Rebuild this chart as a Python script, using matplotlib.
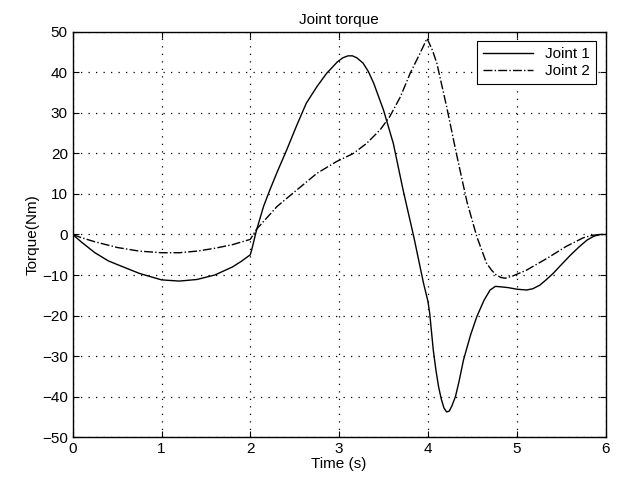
import matplotlib
matplotlib.use("Agg")
from matplotlib import pyplot as plt

plt.rcParams['font.family'] = ['Liberation Sans', 'DejaVu Sans']

# values
t1 = [0, 0.1, 0.25, 0.4, 0.5, 0.75, 1.0, 1.2, 1.4, 1.6, 1.8, 1.9, 2.0, 2.02, 2.07, 2.15, 2.22,
      2.3, 2.41, 2.52, 2.63, 2.75, 2.86, 2.98, 3.04, 3.1, 3.15, 3.2, 3.27, 3.33, 3.39, 3.5,
      3.61, 3.72, 3.84, 3.95, 4.0, 4.02, 4.06, 4.09, 4.12, 4.15, 4.18, 4.21, 4.24, 4.27,
      4.31, 4.35, 4.4, 4.48, 4.55, 4.63, 4.7, 4.76, 4.81, 4.9, 5.0, 5.11, 5.18, 5.26, 5.33,
      5.41, 5.5, 5.6, 5.7, 5.79, 5.87, 5.94, 6.0]
joint1 = [0, -1.9, -4.5, -6.5, -7.4, -9.6, -11.2, -11.5, -11.1, -10.0, -8.0, -6.6, -5.0, -3.4, 1.1, 7.0, 11,
          15.3, 20.9, 26.8, 32.4, 36.5, 39.8, 42.6, 43.6, 44.1, 44.1, 43.6, 42.3, 40.2, 37.3, 30.7,
          22.5, 11, -0.5, -12, -16.5, -19.5, -28.5, -33.5, -37.6, -40.6, -42.8, -43.8, -43.6, -42.3,
          -40, -36.3, -31, -24.8, -20.3, -16.3, -13.7, -12.8, -12.9, -13.1, -13.5, -13.7, -13.4, -12.5, -11.2,
          -9.6, -7.5, -5.2, -3.1, -1.4, -0.4, 0, 0]

t2 = [0, 0.1, 0.25, 0.5, 0.75, 1.0, 1.2, 1.4, 1.6, 1.8, 2.0, 2.07, 2.3, 2.48, 2.75,
      2.97, 3.16, 3.31, 3.46, 3.57, 3.69, 3.8, 3.91, 3.99, 4.05, 4.1, 4.21, 4.32, 4.44,
      4.55, 4.66, 4.72, 4.77, 4.82, 4.87, 4.96, 5.11, 5.34, 5.56, 5.75, 5.85, 5.94, 6.0]
joint2 = [0, -0.8, -1.8, -3.2, -4.1, -4.5, -4.5, -4.1, -3.4, -2.5, -1.2, 1.3, 6.9, 10.2, 15.1,
          18, 20, 22.5, 25.8, 29.1, 34, 39.8, 44.7, 48.4, 45.5, 42.3, 31.6, 20, 8,
          -0.5, -7.1, -8.9, -10, -10.6, -10.8, -10.2, -8.8, -5.9, -2.9, -0.8, -0.2, 0, 0]

fig = plt.figure(figsize=(6.23, 4.84), dpi=100)
ax = fig.add_axes([0.1167, 0.097, 0.8553, 0.837])

ax.plot(t1, joint1, color='k', linestyle='-', linewidth=1.0, label='Joint 1')
ax.plot(t2, joint2, color='k', linestyle='-.', linewidth=1.0, label='Joint 2')

ax.set_xlim(0, 6)
ax.set_ylim(-50, 50)
ax.set_xticks(range(0, 7))
ax.set_yticks(range(-50, 51, 10))
ax.grid(True, color='k', linestyle=(0, (1, 5)), linewidth=0.9)
ax.tick_params(direction='in', top=True, right=True, labelsize=11, length=4)
for s in ax.spines.values():
    s.set_linewidth(1.0)

ax.set_title('Joint torque', fontsize=11)
ax.set_xlabel('Time (s)', fontsize=11, labelpad=1)
ax.set_ylabel('Torque(Nm)', fontsize=11, labelpad=2)

leg = ax.legend(loc='upper right', fontsize=11, fancybox=False, framealpha=1,
                edgecolor='k', handlelength=3.3, borderaxespad=0.6, labelspacing=0.2)
leg.get_frame().set_linewidth(0.8)

fig.savefig('out.png', dpi=100)
